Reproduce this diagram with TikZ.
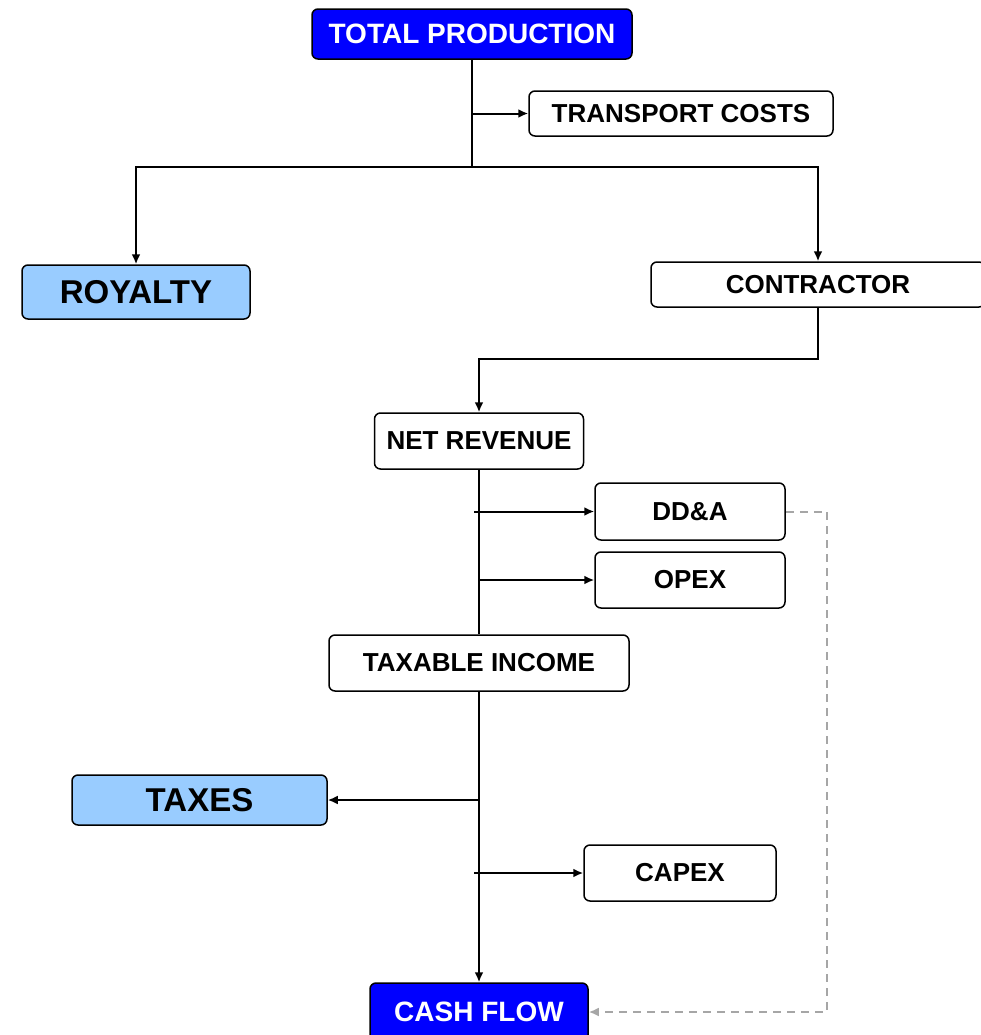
\documentclass[tikz,border=0pt]{standalone}
\usepackage{fontspec}
\setmainfont{Liberation Sans}
\usepackage{xcolor}
\usepackage{tikz}
\usetikzlibrary{arrows.meta}

\definecolor{darkblue}{HTML}{0000FF}
\definecolor{paleblue}{HTML}{99CCFF}
\definecolor{dashgray}{HTML}{A6A6A6}

\tikzset{
  box/.style={draw,rounded corners=3pt,line width=0.75pt,fill=white,inner sep=0pt,
    font=\fontsize{13}{15}\selectfont\bfseries},
  bluebox/.style={box,fill=darkblue,text=white,font=\fontsize{14}{16}\selectfont\bfseries},
  palebox/.style={box,fill=paleblue,font=\fontsize{16.5}{18}\selectfont\bfseries},
  link/.style={line width=1pt},
  feedback/.style={line width=1pt,dashgray,dash pattern=on 4pt off 3pt}
}

\begin{document}
\begin{tikzpicture}[x=0.5pt,y=-0.5pt,>={Latex[length=5pt,width=4.5pt]}]
\useasboundingbox (0,0) rectangle (981,1035);
\node (1) at (472,34) [bluebox,minimum width=160pt,minimum height=25pt] {TOTAL PRODUCTION};
\node (2) at (681,113.5) [box,minimum width=152pt,minimum height=22.5pt] {TRANSPORT COSTS};
\node (3) at (136,292) [palebox,minimum width=114pt,minimum height=27pt] {ROYALTY};
\node (4) at (818,284.5) [box,minimum width=167pt,minimum height=22.5pt] {CONTRACTOR};
\node (5) at (479,441) [box,minimum width=104.5pt,minimum height=28pt] {NET REVENUE};
\node (6) at (690,511.5) [box,minimum width=95pt,minimum height=28.5pt] {DD\&A};
\node (7) at (690,580) [box,minimum width=95pt,minimum height=28pt] {OPEX};
\node (8) at (479,663) [box,minimum width=150pt,minimum height=28pt] {TAXABLE INCOME};
\node (9) at (199.5,800) [palebox,minimum width=127.5pt,minimum height=25pt] {TAXES};
\node (10) at (680,873) [box,minimum width=96pt,minimum height=28pt] {CAPEX};
\node (11) at (479,1012) [bluebox,minimum width=109pt,minimum height=29pt] {CASH FLOW};
\coordinate (a) at (472,167);
\coordinate (b) at (474,511.5);
\coordinate (c) at (474,873);
\coordinate (d) at (827,511.5);
\draw [link] (1) -- (a);
\draw [link,->] (1.south |- 2) -- (2);
\draw [link,->] (a) -| (3);
\draw [link,->] (a) -| (4);
\draw [link,->] (4.south) -- ++(0,51) -| (5);
\draw [link] (5) -- (8);
\draw [link,->] (b) -- (6);
\draw [link,->] (5.south |- 7) -- (7);
\draw [link,line width=1.4pt,->] (8) -- (11);
\draw [link,->] (8.south |- 9) -- (9);
\draw [link,->] (c) -- (10);
\draw [feedback,->] (6) -- (d) |- (11);
\end{tikzpicture}
\end{document}
